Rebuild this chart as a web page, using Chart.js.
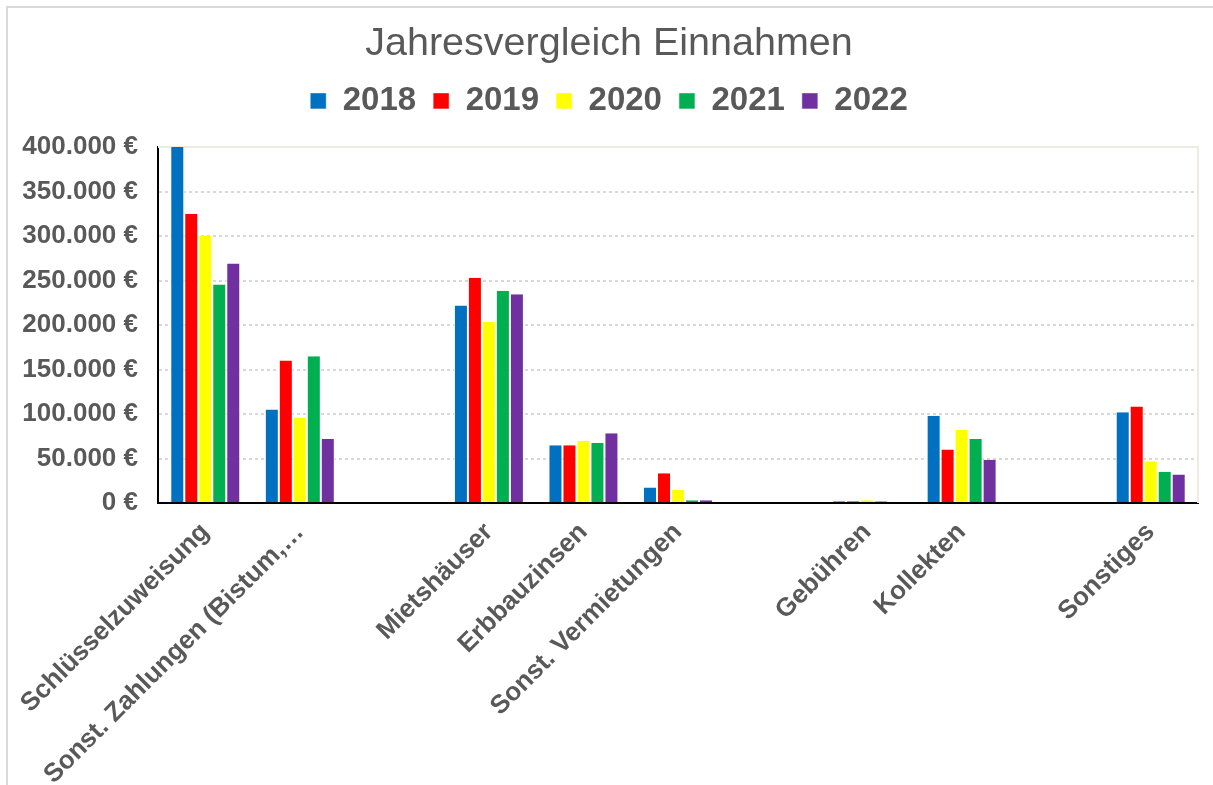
<!DOCTYPE html>
<html lang="de">
<head>
<meta charset="utf-8">
<title>Jahresvergleich Einnahmen</title>
<script src="https://cdn.jsdelivr.net/npm/chart.js@4/dist/chart.umd.min.js"></script>
<style>
  html, body { margin: 0; padding: 0; background: #fff; overflow: hidden; }
  #wrap { position: relative; width: 1213px; height: 785px; }
  #frame {
    position: absolute; left: 6px; top: 6px; right: -20px; bottom: -20px;
    border: 2px solid #D9D9D9; pointer-events: none;
  }
</style>
</head>
<body>
<div id="wrap">
  <canvas id="incomeChart"></canvas>
  <div id="frame"></div>
</div>
<script>
/* ───────────────── DATA ───────────────── */
const categories = [
  "Schlüsselzuweisung", "Sonst. Zahlungen (Bistum,…", "",
  "Mietshäuser", "Erbbauzinsen", "Sonst. Vermietungen", "",
  "Gebühren", "Kollekten", "", "Sonstiges"
];
const years = ["2018", "2019", "2020", "2021", "2022"];
const values2018 = [400000, 105000, null, 222000, 65000, 17500, null, 2000, 98000, null, 102000];
const values2019 = [325000, 160000, null, 253000, 65000, 33500, null, 2000, 60000, null, 108500];
const values2020 = [300000, 96000, null, 203500, 70000, 15000, null, 3000, 82000, null, 47000];
const values2021 = [245500, 165000, null, 238500, 67500, 3000, null, 2000, 72000, null, 35000];
const values2022 = [269000, 72000, null, 234500, 78500, 3000, null, 1000, 48500, null, 32000];
const yTicks = [0, 50000, 100000, 150000, 200000, 250000, 300000, 350000, 400000];

const colors = ["#0070C0", "#FF0000", "#FFFF00", "#00B050", "#7030A0"];
const grey = "#595959";
const fontFamily = "Arial, 'Liberation Sans', sans-serif";

/* ───────────────── HELPERS ───────────────── */
const euro = v => String(v).replace(/\B(?=(\d{3})+(?!\d))/g, ".") + " €";

// beige frame on top and right of the plot area
const plotFrame = {
  id: "plotFrame",
  beforeDatasetsDraw(chart) {
    const { ctx, chartArea: a } = chart;
    ctx.save();
    ctx.strokeStyle = "#EEECE1";
    ctx.lineWidth = 2;
    ctx.beginPath();
    ctx.moveTo(a.left, a.top);
    ctx.lineTo(a.right, a.top);
    ctx.lineTo(a.right, a.bottom);
    ctx.stroke();
    ctx.restore();
  }
};

/* ───────────────── CHART ───────────────── */
document.addEventListener("DOMContentLoaded", () => {
  const ctx = document.getElementById("incomeChart").getContext("2d");
  const series = [values2018, values2019, values2020, values2021, values2022];

  new Chart(ctx, {
    type: "bar",
    data: {
      labels: categories,
      datasets: years.map((y, i) => ({
        label: y,
        data: series[i],
        backgroundColor: colors[i],
        borderColor: "#FFFFFF",
        borderWidth: { left: 1, right: 1, top: 0, bottom: 0 },
        categoryPercentage: 0.74,
        barPercentage: 1.0
      }))
    },
    options: {
      responsive: true,
      maintainAspectRatio: false,
      animation: false,
      layout: { padding: { left: 20, right: 15, top: 0, bottom: 0 } },
      plugins: {
        title: {
          display: true,
          text: "Jahresvergleich Einnahmen",
          color: grey,
          font: { family: fontFamily, size: 39.5, weight: "normal" },
          padding: { top: 20, bottom: 0 }
        },
        // empty subtitle below the legend, only used as spacer
        subtitle: {
          display: true,
          text: "",
          weight: 0,
          font: { size: 10 },
          padding: { top: 0, bottom: 7.6 }
        },
        legend: {
          position: "top",
          labels: {
            color: grey,
            font: { family: fontFamily, size: 33, weight: "bold" },
            boxWidth: 16,
            boxHeight: 16,
            padding: 17
          }
        },
        tooltip: { enabled: false }
      },
      scales: {
        x: {
          grid: { display: false, drawTicks: false },
          border: { display: true, color: "#000000", width: 2 },
          ticks: {
            color: grey,
            font: { family: fontFamily, size: 26, weight: "bold" },
            autoSkip: false,
            maxRotation: 45,
            minRotation: 45,
            padding: 14
          },
          afterFit: scale => { scale.height = 282; }
        },
        y: {
          min: 0,
          max: 400000,
          afterBuildTicks: scale => { scale.ticks = yTicks.map(v => ({ value: v })); },
          grid: {
            drawTicks: false,
            lineWidth: 2,
            color: c => (c.tick && (c.tick.value === 0 || c.tick.value === 400000)) ? "rgba(0,0,0,0)" : "#D9D9D9"
          },
          border: { display: true, color: "#000000", width: 2, dash: [3, 3] },
          ticks: {
            color: grey,
            font: { family: fontFamily, size: 26, weight: "bold" },
            padding: 20,
            callback: v => euro(v)
          },
          afterFit: scale => { scale.width = 138; }
        }
      }
    },
    plugins: [plotFrame]
  });
});
</script>
</body>
</html>
